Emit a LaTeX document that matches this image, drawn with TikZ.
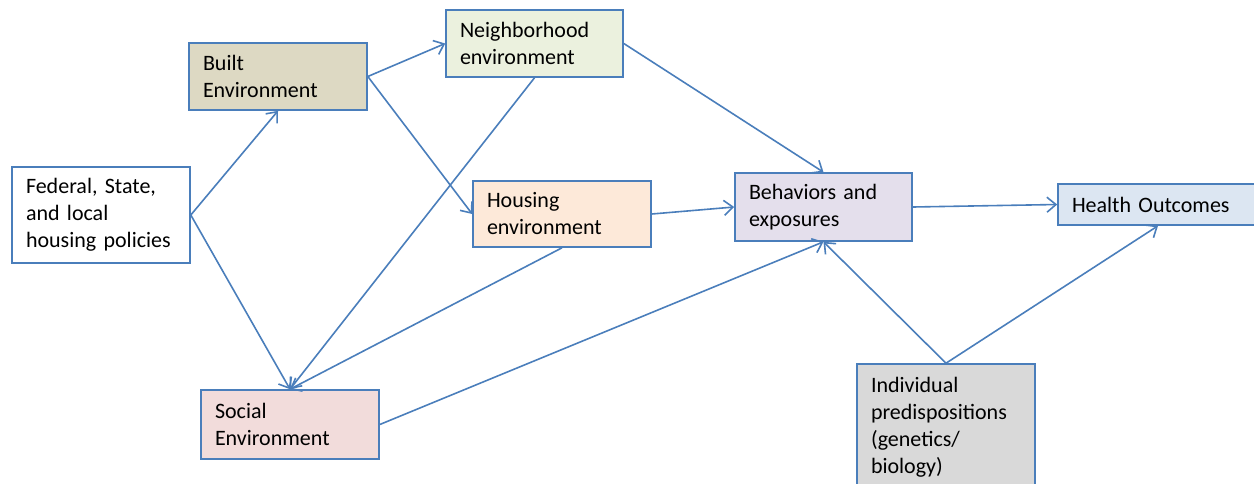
\documentclass[tikz,border=0pt]{standalone}
\usepackage{fontspec}
\setmainfont[WordSpace=0.8]{Carlito}
\usetikzlibrary{arrows.meta}
\definecolor{edge}{HTML}{4A7EBB}
\definecolor{builtfill}{HTML}{DDD9C3}
\definecolor{nbrfill}{HTML}{EBF1DE}
\definecolor{housfill}{HTML}{FDE9D9}
\definecolor{behfill}{HTML}{E4DFEC}
\definecolor{healthfill}{HTML}{DCE6F2}
\definecolor{socfill}{HTML}{F2DCDB}
\definecolor{indfill}{HTML}{D9D9D9}
\tikzset{
  box/.style={draw=edge, line width=1.6pt, inner xsep=14pt, inner ysep=0pt,
    align=left, font=\fontsize{22}{27}\selectfont, text=black},
  link/.style={draw=edge, line width=1.6pt, -{Straight Barb[length=9pt,width=15pt,line width=1.6pt]}}
}
\newcommand{\boxnode}[7]{%
  % name, x, y, width, height, fill, text
  \node[box, fill=#6, text width=#4pt-28pt, minimum height=#5pt] (#1) at (#2,#3) {#7};}
\begin{document}
\begin{tikzpicture}[x=1pt,y=-1pt]
  \useasboundingbox (0,0) rectangle (1254,483);
  \begin{scope}
    \clip (0,0) rectangle (1254,483);
    \boxnode{fed}{101}{215}{178}{96}{white}{Federal, State,\\and local\\housing policies}
    \boxnode{built}{278}{76.5}{178}{67}{builtfill}{Built\\Environment}
    \boxnode{nbr}{534.5}{43.5}{177}{67}{nbrfill}{Neighborhood\\environment}
    \boxnode{hous}{562}{214}{178}{66}{housfill}{Housing\\environment}
    \boxnode{beh}{823.5}{207}{177}{68}{behfill}{Behaviors and\\exposures}
    \boxnode{health}{1158}{204.5}{200}{41}{healthfill}{Health Outcomes}
    \boxnode{soc}{290}{424.5}{178}{69}{socfill}{Social\\Environment}
    \boxnode{ind}{946}{427}{178}{126}{indfill}{Individual\\predispositions\\(genetics/\\biology)}

    \draw[link] (fed.east) -- (built.south);
    \draw[link] (fed.east) -- (soc.north);
    \draw[link] (built.east) -- (nbr.west);
    \draw[link] (built.east) -- (hous.west);
    \draw[link] (nbr.south) -- (soc.north);
    \draw[link] (nbr.east) -- (beh.north);
    \draw[link] (hous.south) -- (soc.north);
    \draw[link] (hous.east) -- (beh.west);
    \draw[link] (soc.east) -- (beh.south);
    \draw[link] (beh.east) -- (health.west);
    \draw[link] (ind.north) -- (beh.south);
    \draw[link] (ind.north) -- (health.south);
  \end{scope}
\end{tikzpicture}
\end{document}
